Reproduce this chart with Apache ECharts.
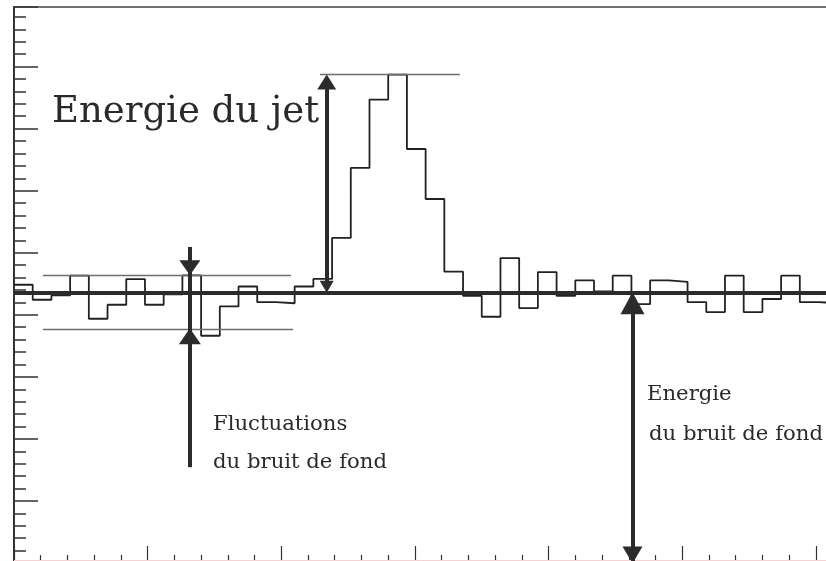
<!DOCTYPE html>
<html>
<head>
<meta charset="utf-8">
<script src="https://cdn.jsdelivr.net/npm/echarts@6/dist/echarts.min.js"></script>
<style>
  html, body { margin: 0; padding: 0; background: #ffffff; }
  #chart { width: 826px; height: 561px; }
</style>
</head>
<body>
<div id="chart"></div>
<script>
// Energy deposited per bin, left to right (arbitrary units)
const binWidth = 0.7;
const binValues = [
  22.42, 21.21, 21.56, 23.15, 19.68, 20.81, 22.88, 20.81, 21.65, 23.17,
  18.31, 20.67, 22.28, 21.02, 20.93, 22.28, 22.89, 26.19, 31.83, 37.34,
  39.35, 33.36, 29.33, 23.47, 21.53, 19.84, 24.57, 20.54, 23.44, 21.53,
  22.77, 21.88, 23.15, 20.86, 22.77, 22.66, 21.02, 20.22, 23.15, 20.22,
  21.27, 23.15, 21.02, 20.94
];
// Mean background level and the band of its fluctuations
const backgroundLevel = 21.81;
const fluctuationBand = [18.87, 23.17];

// Annotation texts
const jetLabel = 'Energie du jet';
const fluctLabel = ['Fluctuations', 'du bruit de fond'];
const bgLabel = ['Energie', 'du bruit de fond'];

// Where the annotation arrows stand on the energy axis
const jetArrowX = 11.70;
const fluctArrowX = 6.58;
const bgArrowX = 23.14;

const ink = '#2b2b2b';
const guideGrey = '#6e6e6e';
const textInk = '#2a2a2a';
const serif = '"DejaVu Serif", "Liberation Serif", serif';

// Step outline: one point per bin edge, last bin closed at its right edge
const histPoints = binValues.map((v, k) => [k * binWidth, v]);
histPoints.push([binValues.length * binWidth, binValues[binValues.length - 1]]);
const peak = Math.max(...binValues);

const seg = (x1, y1, x2, y2, style) => [
  { coord: [x1, y1], lineStyle: style },
  { coord: [x2, y2] }
];
const shaft = { color: ink, width: 4, type: 'solid' };
const thin = { color: guideGrey, width: 1.4, type: 'solid' };

const head = (x, y, w, h, down) => ({
  value: [x, y],
  symbolSize: [w, h],
  symbolRotate: down ? 180 : 0
});

const chart = echarts.init(document.getElementById('chart'), null, { renderer: 'canvas' });

chart.setOption({
  animation: false,
  backgroundColor: '#ffffff',
  grid: { left: 14, right: -123.5, top: 7, bottom: -2, outerBoundsMode: 'none', containLabel: false },
  xAxis: [
    {
      type: 'value', position: 'bottom', min: 0, max: 35, interval: 5,
      axisLine: { show: false },
      axisTick: { show: true, inside: true, length: 17, lineStyle: { color: '#333', width: 1.2 } },
      minorTick: { show: true, splitNumber: 5, length: 8, lineStyle: { color: '#333', width: 1.2 } },
      axisLabel: { show: false },
      splitLine: { show: false }
    },
    {
      type: 'value', position: 'top', min: 0, max: 35,
      axisLine: { show: true, lineStyle: { color: '#444', width: 1.5 } },
      axisTick: { show: false },
      axisLabel: { show: false },
      splitLine: { show: false }
    }
  ],
  yAxis: {
    type: 'value', min: 0, max: 44.8, interval: 5,
    axisLine: { show: true, lineStyle: { color: '#333', width: 2 } },
    axisTick: { show: true, inside: true, length: 24, lineStyle: { color: '#333', width: 1.5 } },
    minorTick: { show: true, splitNumber: 5, length: 12, lineStyle: { color: '#333', width: 1.5 } },
    axisLabel: { show: false },
    splitLine: { show: false }
  },
  series: [
    {
      name: 'histogram',
      type: 'line',
      step: 'end',
      data: histPoints,
      showSymbol: false,
      symbol: 'none',
      lineStyle: { color: '#222', width: 1.8 },
      silent: true,
      z: 2
    },
    {
      name: 'guides',
      type: 'line',
      data: [],
      silent: true,
      z: 3,
      markLine: {
        silent: true,
        symbol: ['none', 'none'],
        label: { show: false },
        emphasis: { disabled: true },
        data: [
          { yAxis: 0.24, lineStyle: { color: '#f2d2d2', width: 1, type: 'solid' } },
          seg(11.45, peak, 16.68, peak, thin),
          seg(1.08, fluctuationBand[1], 10.36, fluctuationBand[1], thin),
          seg(1.08, fluctuationBand[0], 10.44, fluctuationBand[0], thin),
          { yAxis: backgroundLevel, lineStyle: { color: ink, width: 4, type: 'solid' } },
          seg(jetArrowX, 22.3, jetArrowX, 38.75, shaft),
          seg(fluctArrowX, 7.72, fluctArrowX, 25.46, shaft),
          seg(bgArrowX, 0, bgArrowX, 20.9, shaft)
        ]
      }
    },
    {
      name: 'arrowheads',
      type: 'scatter',
      symbol: 'triangle',
      silent: true,
      z: 4,
      itemStyle: { color: ink, opacity: 1 },
      data: [
        head(jetArrowX, 38.75, 19, 15, false),
        head(jetArrowX, 22.26, 14, 12, true),
        head(fluctArrowX, 23.79, 21, 15, true),
        head(fluctArrowX, 18.28, 22, 16, false),
        head(bgArrowX, 20.93, 24, 22, false),
        head(bgArrowX, 0.65, 20, 17, true)
      ]
    }
  ],
  graphic: [
    { type: 'text', silent: true, style: { x: 52, y: 112, text: jetLabel, font: '37px ' + serif, fill: textInk, verticalAlign: 'middle' } },
    { type: 'text', silent: true, style: { x: 213, y: 424.5, text: fluctLabel[0], font: '21.2px ' + serif, fill: textInk, verticalAlign: 'middle' } },
    { type: 'text', silent: true, style: { x: 213, y: 462.5, text: fluctLabel[1], font: '21.2px ' + serif, fill: textInk, verticalAlign: 'middle' } },
    { type: 'text', silent: true, style: { x: 647, y: 394.5, text: bgLabel[0], font: '21.2px ' + serif, fill: textInk, verticalAlign: 'middle' } },
    { type: 'text', silent: true, style: { x: 649, y: 434.5, text: bgLabel[1], font: '21.2px ' + serif, fill: textInk, verticalAlign: 'middle' } }
  ]
});
</script>
</body>
</html>
